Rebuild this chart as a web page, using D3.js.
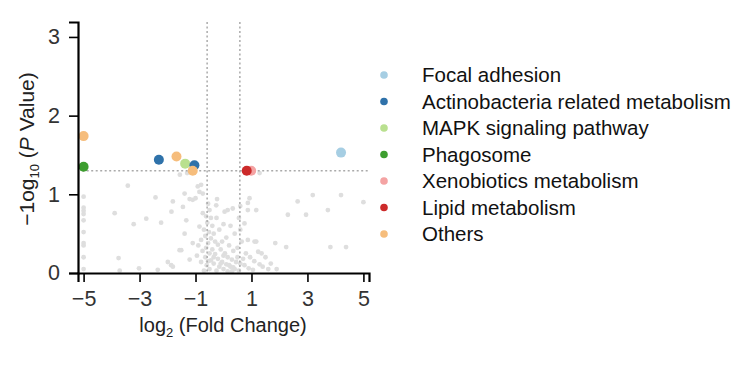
<!DOCTYPE html>
<html><head><meta charset="utf-8">
<script src="https://cdn.jsdelivr.net/npm/d3@7"></script>
<style>body{margin:0;background:#fff}svg{display:block;font-family:"Liberation Sans",Arial,sans-serif}</style>
</head><body><svg id="c" width="741" height="365"></svg>
<script>
const categories = ["Focal adhesion","Actinobacteria related metabolism","MAPK signaling pathway","Phagosome","Xenobiotics metabolism","Lipid metabolism","Others"];
const colors = ["#a6cee3","#2f72aa","#b9e08f","#3d9e2f","#f4a3a3","#cc2a2a","#f6bd7c"];
const xTicks = [-5,-3,-1,1,3,5];
const yTicks = [0,1,2,3];
const fcThreshold = 0.585;
const pThreshold = 1.301;
// colored points: [log2FC, -log10 P, category index]
const sigPoints = [
 [-5.0,1.74,6],[-5.0,1.35,3],[-2.31,1.44,1],[-1.68,1.48,6],[-1.37,1.39,2],
 [-1.04,1.37,1],[-1.1,1.30,6],[0.99,1.30,4],[0.83,1.30,5],[4.2,1.53,0]
];
const grayX = [-5,-5,-5,-5,-5,-5,-5,-5,-5,-5,
 -3.42,-3.89,-3.21,-2.76,-2.43,-2.23,-3.75,-3.02,-3.71,-2.35,-1.99,-1.87,-1.56,-1.81,-1.86,-1.51,-1.39,-1.21,-1.39,-0.92,-0.74,-1.1,-1.0,-1.45,-0.74,-0.86,-1.33,-1.1,-1.21,-1.57,-1.81,-1.3,
 -0.26,0.04,0.33,-0.55,-0.5,-0.62,-0.45,-0.58,-0.4,-0.7,-0.52,-0.35,-0.65,-0.45,-0.8,-0.3,-0.55,-0.9,-0.2,-0.62,-0.4,-0.75,-0.1,-0.5,-0.3,-0.95,0.0,-0.65,-0.2,0.15,-0.45,0.3,-0.8,-0.05,0.45,-0.35,0.1,0.6,-0.6,-0.15,0.25,0.75,-0.5,0.0,0.4,0.9,-0.25,0.15,0.55,-0.7,1.05,0.35,0.5,0.2,0.65,0.1,0.4,0.6,0.25,0.55,0.15,0.6,-0.15,0.0,-0.25,0.75,0.87,1.17,0.87,1.17,0.93,0.87,1.11,0.95,1.1,0.8,-0.86,-0.8,-0.23,
 -0.1,0.2,0.05,-0.35,0.3,0.5,-0.55,0.7,-0.05,0.35,
 1.24,1.36,1.29,1.69,1.85,2.24,1.9,2.3,2.65,2.95,3.19,3.73,3.82,4.2,4.38,5.0,1.29,1.5,1.6,1.4];
const grayY = [0.97,0.83,0.79,0.75,0.67,0.52,0.38,0.35,0.2,0.05,
 1.11,0.76,0.62,0.69,0.96,0.64,0.19,0.06,0.03,0.04,0.14,0.1,1.25,0.91,0.78,0.29,0.5,0.94,1.01,1.1,1.01,0.93,0.95,0.84,0.76,0.59,0.67,0.38,0.17,0.29,0.08,1.27,
 0.86,0.78,0.82,0.88,0.8,0.72,0.7,0.64,0.6,0.55,0.52,0.5,0.47,0.44,0.42,0.4,0.38,0.35,0.36,0.32,0.3,0.28,0.3,0.25,0.24,0.22,0.22,0.2,0.18,0.2,0.16,0.17,0.14,0.14,0.14,0.12,0.11,0.12,0.1,0.08,0.08,0.1,0.05,0.05,0.05,0.06,0.03,0.02,0.03,0.03,0.04,0.28,0.32,0.35,0.4,0.45,0.5,0.55,0.6,0.7,0.8,0.85,0.55,0.62,0.7,0.63,0.42,0.4,0.89,0.8,0.95,0.8,0.4,0.2,0.15,0.25,1.03,1.12,0.94,
 0.12,0.1,0.25,0.2,0.02,0.2,0.15,0.18,0.4,0.07,
 0.27,0.25,0.11,0.12,0.38,0.33,0.05,0.74,0.91,0.74,0.99,0.8,0.33,0.99,0.33,0.9,1.27,0.2,0.05,0.08];

const svg = d3.select("#c");
const x = d3.scaleLinear().domain([-5.2,5.2]).range([78,369]);
const y = d3.scaleLinear().domain([0,3.19]).range([273,22]);

// gray points
svg.append("g").selectAll("circle").data(d3.range(grayX.length)).join("circle")
 .attr("cx",i=>x(grayX[i])).attr("cy",i=>y(grayY[i])).attr("r",2.4).attr("fill","#dedede");

// threshold lines
const dl = svg.append("g").attr("stroke","#aaaaaa").attr("stroke-width",1.5).attr("stroke-dasharray","2,2.5");
[-fcThreshold,fcThreshold].forEach(v=>dl.append("line").attr("x1",x(v)).attr("x2",x(v)).attr("y1",y(3.19)).attr("y2",y(0)));
dl.append("line").attr("x1",x(-5.05)).attr("x2",x(5.2)).attr("y1",y(pThreshold)).attr("y2",y(pThreshold));

// colored points
svg.append("g").selectAll("circle").data(sigPoints).join("circle")
 .attr("cx",d=>x(d[0])).attr("cy",d=>y(d[1])).attr("r",5).attr("fill",d=>colors[d[2]]);

// axes
const xa = svg.append("g").attr("transform","translate(0,273)")
 .call(d3.axisBottom(x).tickValues(xTicks).tickSize(9).tickPadding(8).tickFormat(d=>d<0?"\u2212"+Math.abs(d):d));
const ya = svg.append("g").attr("transform","translate(78,0)")
 .call(d3.axisLeft(y).tickValues(yTicks).tickSize(9).tickPadding(9).tickFormat(d3.format("d")));
[xa,ya].forEach(a=>{
 a.select(".domain").attr("stroke","#000").attr("stroke-width",2.2);
 a.selectAll(".tick line").attr("stroke","#000").attr("stroke-width",1.6);
 a.selectAll(".tick text").attr("fill","#333").style("font-size","21.5px").style("font-family","Liberation Sans, Arial, sans-serif");
});
xa.selectAll(".tick text").attr("dy","0.75em");

// axis titles
const xt = svg.append("text").attr("x",223).attr("y",332).attr("text-anchor","middle")
 .attr("fill","#222").style("font-size","20px");
xt.append("tspan").text("log");
xt.append("tspan").attr("dy",5).style("font-size","13px").text("2");
xt.append("tspan").attr("dy",-5).text(" (Fold Change)");

const yt = svg.append("text").attr("transform","translate(34,149) rotate(-90)").attr("text-anchor","middle")
 .attr("fill","#222").style("font-size","21px");
yt.append("tspan").text("\u22121og");
yt.append("tspan").attr("dy",5).style("font-size","13px").text("10");
yt.append("tspan").attr("dy",-5).text(" (");
yt.append("tspan").style("font-style","italic").text("P");
yt.append("tspan").text(" Value)");

// legend
const lg = svg.append("g").selectAll("g").data(categories).join("g")
 .attr("transform",(d,i)=>`translate(0,${75+i*26.5})`);
lg.append("circle").attr("cx",384).attr("cy",0).attr("r",3.8).attr("fill",(d,i)=>colors[i]);
lg.append("text").attr("x",422).attr("y",0).attr("dy","0.35em").attr("fill","#111")
 .style("font-size","20.5px").text(d=>d);
</script></body></html>
